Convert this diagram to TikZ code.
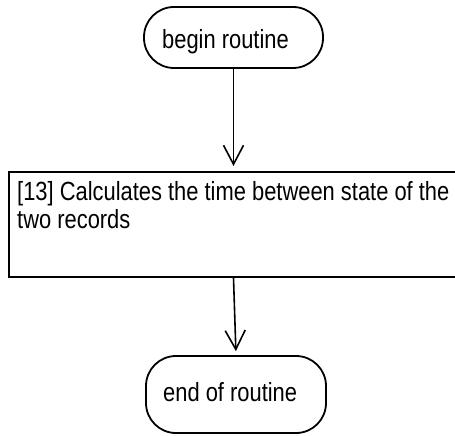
\documentclass[tikz,border=0pt]{standalone}
\usepackage{fontspec}
\setmainfont{Liberation Sans}
\usetikzlibrary{arrows.meta}
\newcommand{\tallt}[1]{\scalebox{1}[1.2]{#1}}
\begin{document}
\begin{tikzpicture}[x=1bp,y=-1bp,
  every node/.style={font=\fontsize{21.9bp}{22.5bp}\selectfont},
  term/.style={draw, line width=1.8bp, rounded corners=30bp, inner sep=0pt},
  procbox/.style={draw, line width=1.8bp, inner sep=0pt, anchor=north west},
  txt/.style={inner sep=0pt, anchor=base west},
  conn/.style={line width=1.6bp, -{Straight Barb[length=19bp,width=20bp]}}]
\useasboundingbox (0,0) rectangle (455,436);
\node[term, minimum width=179bp, minimum height=61bp] (begin) at (233.5,37.5) {};
\node[txt] (begintext) at (162,48.5) {\tallt{begin routine}};
\node[procbox, minimum width=470bp, minimum height=105bp] (proc) at (8,171) {};
\node[txt] (proctext) at (17,201) {\tallt{\begin{tabular}[t]{@{}l@{}}[13] Calculates the time between state of the\\two records\end{tabular}}};
\node[term, minimum width=180bp, minimum height=77bp] (end) at (236,394.5) {};
\node[txt] (endtext) at (163,401) {\tallt{end of routine}};
\draw[conn, shorten >=5bp] (begin.south) -- (begin.south |- proc.north);
\draw[conn, shorten >=4bp] (begin.south |- proc.south) -- (end.north);
\end{tikzpicture}
\end{document}
